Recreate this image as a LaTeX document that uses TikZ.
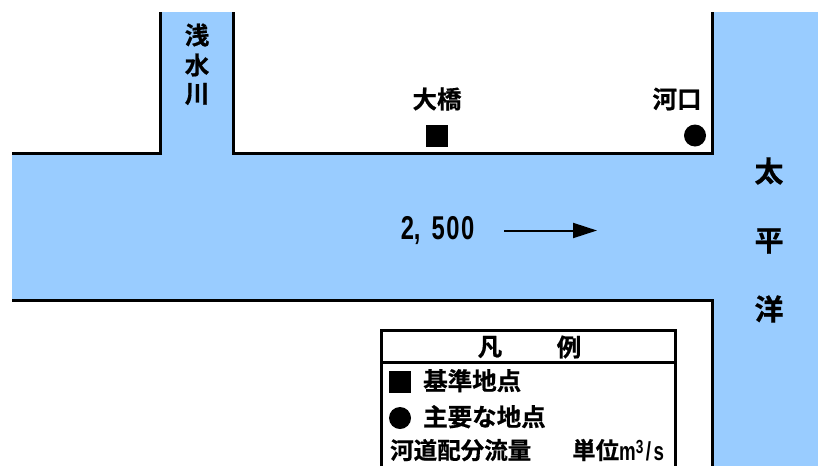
\documentclass[tikz,border=0pt]{standalone}
\usepackage{fontspec}
\setmainfont{Noto Sans CJK JP}[BoldFont={* Bold},BoldFeatures={FakeBold=0.6},Language=Japanese]
\newfontfamily\narrowfont{Liberation Sans}[FakeStretch=0.72,BoldFont={Liberation Sans Bold}]
\usetikzlibrary{arrows.meta}
\definecolor{riverblue}{RGB}{153,204,255}
\tikzset{
  bank/.style={draw=black,line width=3pt,line cap=butt,line join=miter},
  lbl/.style={inner sep=0pt,font=\fontsize{24.5pt}{26pt}\selectfont\bfseries,text=black},
  sealbl/.style={inner sep=0pt,font=\fontsize{29pt}{30pt}\selectfont\bfseries,text=black},
  leg/.style={inner sep=0pt,anchor=base west,font=\fontsize{24.5pt}{26pt}\selectfont\bfseries,text=black},
  sym/.style={fill=black,draw=none,inner sep=0pt},
  flow/.style={draw=black,line width=2pt,-{Triangle[length=24pt,width=15pt]}}
}
\begin{document}
\begin{tikzpicture}[x=1pt,y=-1pt]
\useasboundingbox (0,0) rectangle (818,466);
\fill[riverblue] (12,153) rectangle (713,300);
\fill[riverblue] (161,12) rectangle (233,153);
\fill[riverblue] (713,12) rectangle (818,466);
\coordinate (a1) at (12,153); \coordinate (a2) at (160.5,153); \coordinate (a3) at (160.5,12);
\coordinate (b1) at (233.5,12); \coordinate (b2) at (233.5,153); \coordinate (b3) at (712.5,153); \coordinate (b4) at (712.5,12);
\coordinate (c1) at (12,300.5); \coordinate (c2) at (712.5,300.5); \coordinate (c3) at (712.5,466);
\draw[bank] (a1) -- (a2) -- (a3);
\draw[bank] (b1) -- (b2) -- (b3) -- (b4);
\draw[bank] (c1) -- (c2) -- (c3);
\node[lbl] (s1) at (197,35) {浅};
\node[lbl] (s2) at (197,65) {水};
\node[lbl] (s3) at (197,94) {川};
\node[lbl] (ohashi) at (437,99) {大橋};
\node[lbl] (kako) at (677,99) {河口};
\node[sym,minimum size=22pt] (sq) at (437,135.5) {};
\node[sym,circle,minimum size=22pt] (ci) at (695,135.5) {};
\node[sealbl] (t1) at (769,171) {太};
\node[sealbl] (t2) at (769,241) {平};
\node[sealbl] (t3) at (769,309) {洋};
\node[inner sep=0pt,font=\fontsize{33pt}{34pt}\selectfont\narrowfont\bfseries] (q) at (437.5,231) {2,\hspace{11pt}5\hspace{1.5pt}0\hspace{1.5pt}0};
\coordinate (f1) at (504,230.5); \coordinate (f2) at (597,230.5);
\draw[flow] (f1) -- (f2);
% legend
\fill[white] (381,329) rectangle (675.5,466);
\coordinate (l1) at (381,466); \coordinate (l2) at (381,330); \coordinate (l3) at (675.5,330); \coordinate (l4) at (675.5,466);
\coordinate (h1) at (381,362.5); \coordinate (h2) at (675.5,362.5);
\draw[draw=black,line width=3pt] (l1) -- (l2) -- (l3) -- (l4);
\draw[draw=black,line width=2.5pt] (h1) -- (h2);
\node[lbl] (lg1) at (490,347) {凡};
\node[lbl] (lg2) at (569,347) {例};
\node[sym,minimum size=22pt] (lsq) at (400,382) {};
\node[leg] (lt1) at (423,390) {基準地点};
\node[sym,circle,minimum size=22pt] (lci) at (400,418) {};
\node[leg] (lt2) at (423,426) {主要な地点};
\node[leg,font=\fontsize{23.5pt}{25pt}\selectfont\bfseries] (lt3) at (390,459) {河道配分流量};
\node[leg,font=\fontsize{23.5pt}{25pt}\selectfont\bfseries] (lt4) at (572,459) {単位};
\node[inner sep=0pt,anchor=base west,font=\fontsize{26pt}{27pt}\selectfont\narrowfont\bfseries] (lt5) at (619,460) {m\raisebox{7pt}{\fontsize{19pt}{19pt}\selectfont 3}\hspace{2.5pt}/\hspace{2.5pt}s};
\end{tikzpicture}
\end{document}
